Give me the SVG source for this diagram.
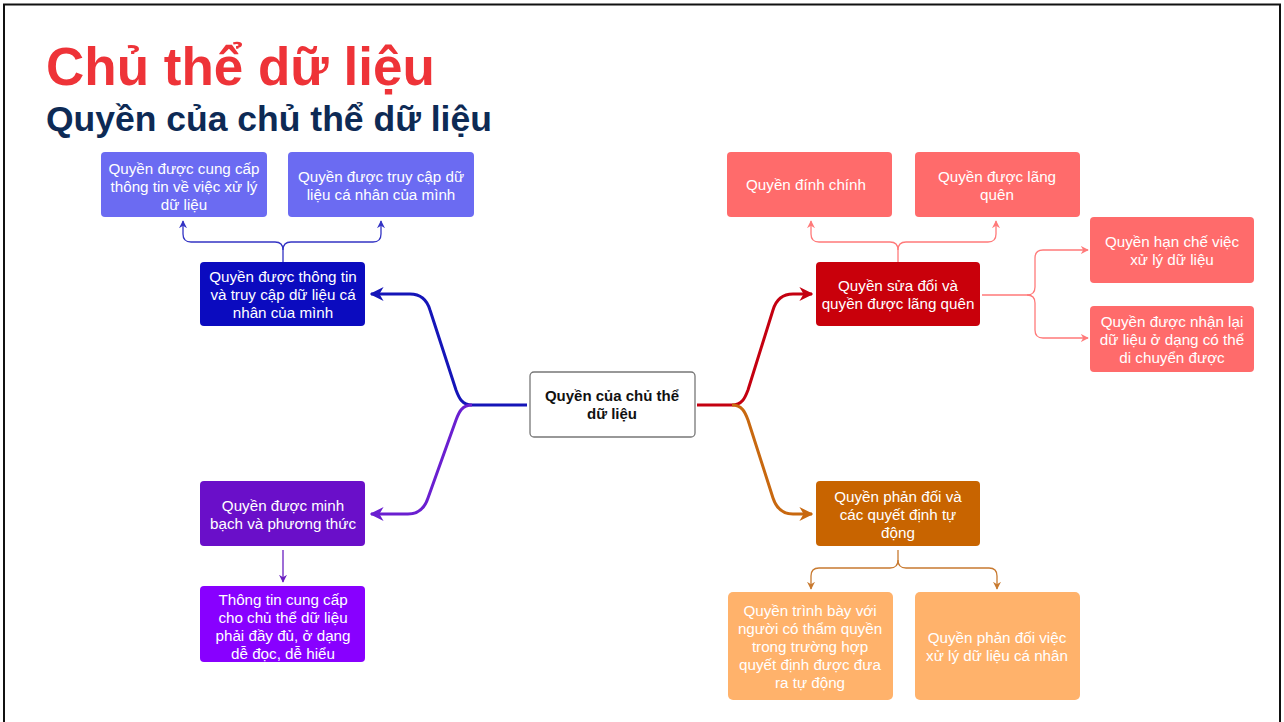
<svg xmlns="http://www.w3.org/2000/svg" width="1284" height="722" viewBox="0 0 1284 722">
<style>
text{font-family:"Liberation Sans",Arial,sans-serif;}
.t{font-size:15.2px;fill:#fff;text-anchor:middle;}
.c{font-size:15px;fill:#111;text-anchor:middle;font-weight:bold;}
.main{fill:none;stroke-width:3;stroke-linejoin:round;}
.thin{fill:none;stroke-width:1.3;}
</style>
<defs>
<marker id="aB" viewBox="0 0 10 10" refX="9" refY="5" markerWidth="14" markerHeight="14" markerUnits="userSpaceOnUse" orient="auto"><path d="M0,0 L10,5 L0,10 L3,5 Z" fill="#1515b8"/></marker>
<marker id="aP" viewBox="0 0 10 10" refX="9" refY="5" markerWidth="14" markerHeight="14" markerUnits="userSpaceOnUse" orient="auto"><path d="M0,0 L10,5 L0,10 L3,5 Z" fill="#6a1fd0"/></marker>
<marker id="aR" viewBox="0 0 10 10" refX="9" refY="5" markerWidth="14" markerHeight="14" markerUnits="userSpaceOnUse" orient="auto"><path d="M0,0 L10,5 L0,10 L3,5 Z" fill="#c40010"/></marker>
<marker id="aO" viewBox="0 0 10 10" refX="9" refY="5" markerWidth="14" markerHeight="14" markerUnits="userSpaceOnUse" orient="auto"><path d="M0,0 L10,5 L0,10 L3,5 Z" fill="#c8680f"/></marker>
<marker id="sB" viewBox="0 0 10 10" refX="9" refY="5" markerWidth="8" markerHeight="8" markerUnits="userSpaceOnUse" orient="auto"><path d="M0,0 L10,5 L0,10 L3,5 Z" fill="#3434c4"/></marker>
<marker id="sP" viewBox="0 0 10 10" refX="9" refY="5" markerWidth="8" markerHeight="8" markerUnits="userSpaceOnUse" orient="auto"><path d="M0,0 L10,5 L0,10 L3,5 Z" fill="#6a1fc0"/></marker>
<marker id="sR" viewBox="0 0 10 10" refX="9" refY="5" markerWidth="8" markerHeight="8" markerUnits="userSpaceOnUse" orient="auto"><path d="M0,0 L10,5 L0,10 L3,5 Z" fill="#ff7a7a"/></marker>
<marker id="sO" viewBox="0 0 10 10" refX="9" refY="5" markerWidth="8" markerHeight="8" markerUnits="userSpaceOnUse" orient="auto"><path d="M0,0 L10,5 L0,10 L3,5 Z" fill="#c87a30"/></marker>
</defs>
<rect x="0" y="0" width="1284" height="722" fill="#fff"/>
<rect x="4" y="4.5" width="1276" height="730" fill="none" stroke="#111" stroke-width="2"/>
<text x="46" y="85" font-size="53" font-weight="bold" fill="#ee3338">Chủ thể dữ liệu</text>
<text x="46" y="131" font-size="35.5" font-weight="bold" fill="#0d2a55">Quyền của chủ thể dữ liệu</text>

<g id="connectors">
<path class="main" stroke="#1515b8" d="M527,405 H472 C462,405 459,398 456,390 L430,310 C427,300 421,294 410,294 H371" marker-end="url(#aB)"/>
<path class="main" stroke="#6a1fd0" d="M472,405 C462,405 459,412 456,420 L428,498 C425,507 419,514 408,514 H371" marker-end="url(#aP)"/>
<path class="main" stroke="#c40010" d="M697,405 H732 C742,405 745,398 748,390 L773,310 C776,300 782,294 793,294 H812" marker-end="url(#aR)"/>
<path class="main" stroke="#c8680f" d="M732,405 C742,405 745,412 748,420 L773,498 C776,507 782,514 793,514 H812" marker-end="url(#aO)"/>
<path class="thin" stroke="#3434c4" d="M283,262 V250 Q283,242 275,242 H191 Q183,242 183,234 V221" marker-end="url(#sB)"/>
<path class="thin" stroke="#3434c4" d="M283,250 Q283,242 291,242 H373 Q381,242 381,234 V221" marker-end="url(#sB)"/>
<path class="thin" stroke="#6a1fc0" d="M283,550 V582" marker-end="url(#sP)"/>
<path class="thin" stroke="#ff7a7a" d="M898,262 V250 Q898,242 890,242 H819 Q811,242 811,234 V221" marker-end="url(#sR)"/>
<path class="thin" stroke="#ff7a7a" d="M898,250 Q898,242 906,242 H988 Q996,242 996,234 V221" marker-end="url(#sR)"/>
<path class="thin" stroke="#ff7a7a" d="M982,295 H1027 Q1035,295 1035,287 V258 Q1035,250 1043,250 H1088" marker-end="url(#sR)"/>
<path class="thin" stroke="#ff7a7a" d="M1027,295 Q1035,295 1035,303 V330 Q1035,338 1043,338 H1088" marker-end="url(#sR)"/>
<path class="thin" stroke="#c87a30" d="M898,550 V560 Q898,568 890,568 H819 Q811,568 811,576 V589" marker-end="url(#sO)"/>
<path class="thin" stroke="#c87a30" d="M898,560 Q898,568 906,568 H989 Q997,568 997,576 V589" marker-end="url(#sO)"/>
</g>

<g id="center"><rect x="530" y="372" width="165" height="65" rx="4" fill="#fff" stroke="#777" stroke-width="1.3"/>
<text class="c" x="612" y="401">Quyền của chủ thể</text><text class="c" x="612" y="419">dữ liệu</text></g>

<g id="n-tl1"><rect x="101" y="152" width="166" height="65" rx="4" fill="#6b6bf2"/>
<text class="t" x="184" y="174">Quyền được cung cấp</text><text class="t" x="184" y="192">thông tin về việc xử lý</text><text class="t" x="184" y="210">dữ liệu</text></g>
<g id="n-tl2"><rect x="288" y="152" width="186" height="65" rx="4" fill="#6b6bf2"/>
<text class="t" x="381" y="182">Quyền được truy cập dữ</text><text class="t" x="381" y="200">liệu cá nhân của mình</text></g>
<g id="n-blue"><rect x="200" y="262" width="165" height="64" rx="4" fill="#0b0bbf"/>
<text class="t" x="283" y="282">Quyền được thông tin</text><text class="t" x="283" y="300">và truy cập dữ liệu cá</text><text class="t" x="283" y="318">nhân của mình</text></g>
<g id="n-purple"><rect x="200" y="481" width="165" height="65" rx="4" fill="#6a0fc9"/>
<text class="t" x="283" y="511">Quyền được minh</text><text class="t" x="283" y="529">bạch và phương thức</text></g>
<g id="n-purple2"><rect x="200" y="586" width="165" height="76" rx="4" fill="#8800ff"/>
<text class="t" x="283" y="605">Thông tin cung cấp</text><text class="t" x="283" y="623">cho chủ thể dữ liệu</text><text class="t" x="283" y="641">phải đầy đủ, ở dạng</text><text class="t" x="283" y="659">dễ đọc, dễ hiểu</text></g>

<g id="n-red"><rect x="816" y="262" width="164" height="64" rx="4" fill="#c9000b"/>
<text class="t" x="898" y="291">Quyền sửa đổi và</text><text class="t" x="898" y="309">quyền được lãng quên</text></g>
<g id="n-tr1"><rect x="727" y="152" width="165" height="65" rx="4" fill="#ff6b6b"/>
<text class="t" x="806" y="190">Quyền đính chính</text></g>
<g id="n-tr2"><rect x="915" y="152" width="165" height="65" rx="4" fill="#ff6b6b"/>
<text class="t" x="997" y="182">Quyền được lãng</text><text class="t" x="997" y="200">quên</text></g>
<g id="n-r1"><rect x="1090" y="217" width="164" height="66" rx="4" fill="#ff6b6b"/>
<text class="t" x="1172" y="247">Quyền hạn chế việc</text><text class="t" x="1172" y="265">xử lý dữ liệu</text></g>
<g id="n-r2"><rect x="1090" y="306" width="164" height="66" rx="4" fill="#ff6b6b"/>
<text class="t" x="1172" y="327">Quyền được nhận lại</text><text class="t" x="1172" y="345">dữ liệu ở dạng có thể</text><text class="t" x="1172" y="363">di chuyển được</text></g>

<g id="n-orange"><rect x="816" y="481" width="164" height="65" rx="4" fill="#c86400"/>
<text class="t" x="898" y="502">Quyền phản đối và</text><text class="t" x="898" y="520">các quyết định tự</text><text class="t" x="898" y="538">động</text></g>
<g id="n-o1"><rect x="728" y="592" width="165" height="108" rx="5" fill="#ffb26b"/>
<text class="t" x="810" y="616">Quyền trình bày với</text><text class="t" x="810" y="634">người có thẩm quyền</text><text class="t" x="810" y="652">trong trường hợp</text><text class="t" x="810" y="670">quyết định được đưa</text><text class="t" x="810" y="688">ra tự động</text></g>
<g id="n-o2"><rect x="915" y="592" width="165" height="108" rx="5" fill="#ffb26b"/>
<text class="t" x="997" y="643">Quyền phản đối việc</text><text class="t" x="997" y="661">xử lý dữ liệu cá nhân</text></g>
</svg>
